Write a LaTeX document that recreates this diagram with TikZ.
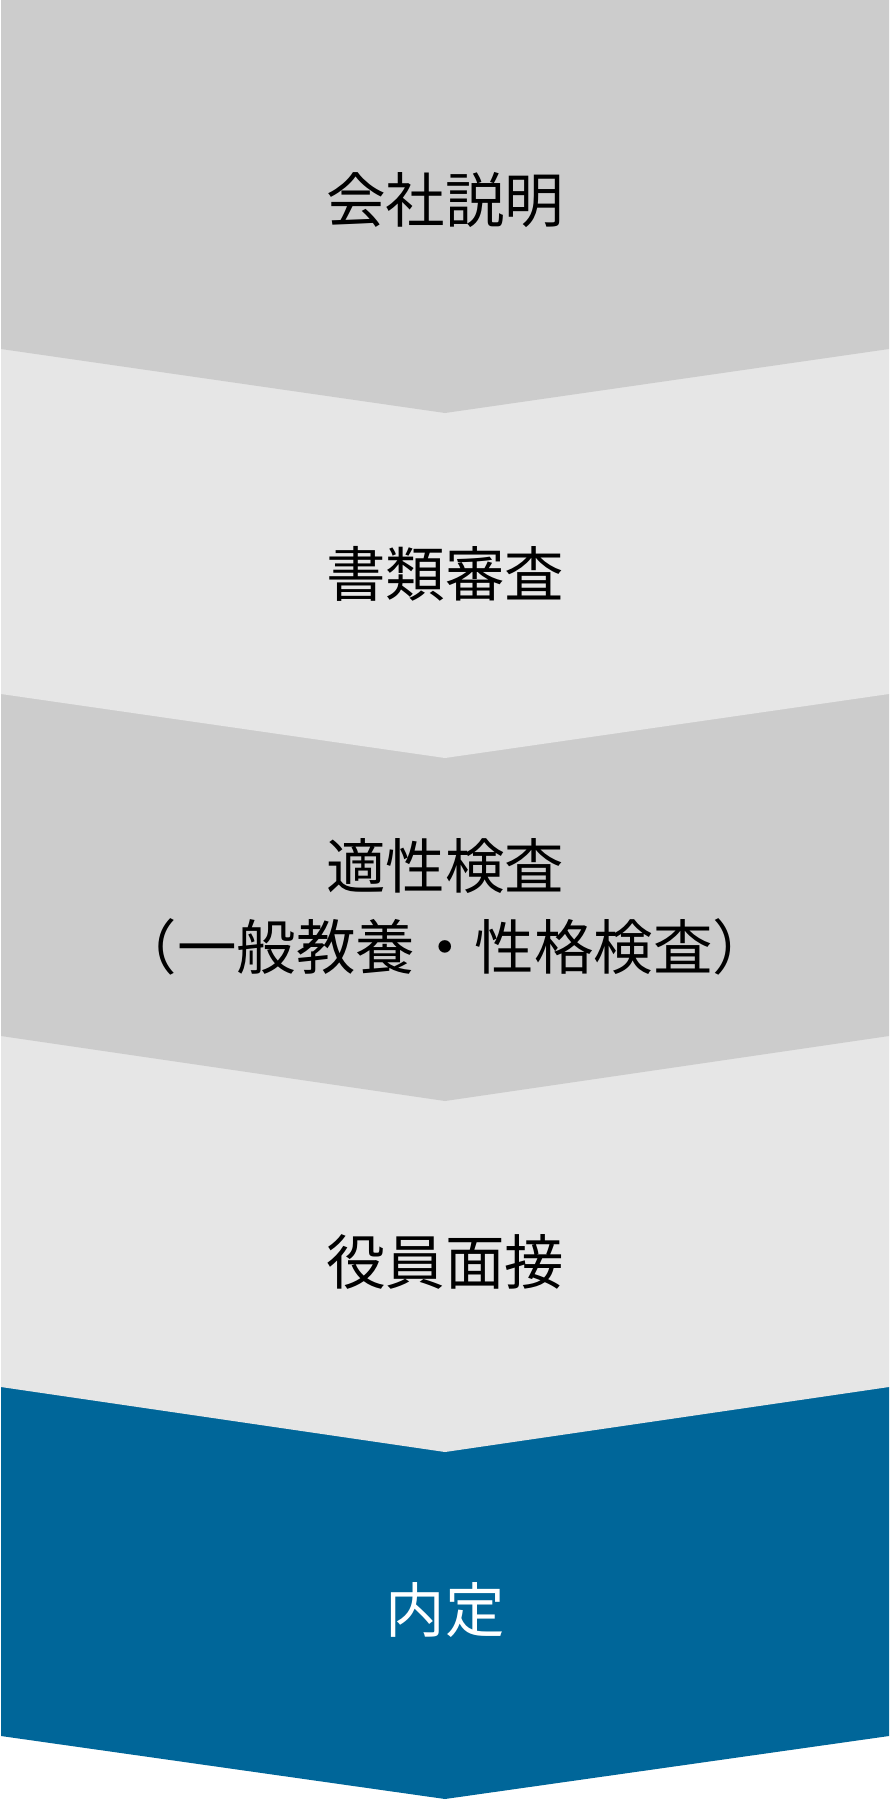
\documentclass[tikz,border=0pt]{standalone}
\usepackage{fontspec}
\setmainfont{Noto Sans CJK JP}
\definecolor{stepgray}{HTML}{CCCCCC}
\definecolor{steplight}{HTML}{E6E6E6}
\definecolor{stepblue}{HTML}{006699}

\begin{document}
\begin{tikzpicture}[x=1pt, y=-1pt,
	steplabel/.style={font=\fontsize{59.5}{81}\selectfont, inner sep=0pt, align=center}]

	%page
	\useasboundingbox[fill=white] (0,0) rectangle (890,1801);

	%chevrons, lowest first so each tip lies over the next one
	\fill[stepblue] (1,1387) -- (889,1387) -- (889,1736) -- (445,1799) -- (1,1736) -- cycle;
	\fill[steplight] (1,1036) -- (889,1036) -- (889,1387) -- (445,1452) -- (1,1387) -- cycle;
	\fill[stepgray] (1,694) -- (889,694) -- (889,1036) -- (445,1101) -- (1,1036) -- cycle;
	\fill[steplight] (1,349) -- (889,349) -- (889,694) -- (445,758) -- (1,694) -- cycle;
	\fill[stepgray] (1,0) -- (889,0) -- (889,349) -- (445,413) -- (1,349) -- cycle;

	%step texts
	\node[steplabel] (briefing) at (445,200) {会社説明};
	\node[steplabel] (screening) at (445,573.5) {書類審査};
	\node[steplabel] (aptitude) at (445,906.5) {適性検査\\（一般教養・性格検査）};
	\node[steplabel] (interview) at (445,1262) {役員面接};
	\node[steplabel, text=white] (offer) at (445,1610) {内定};

\end{tikzpicture}
\end{document}
